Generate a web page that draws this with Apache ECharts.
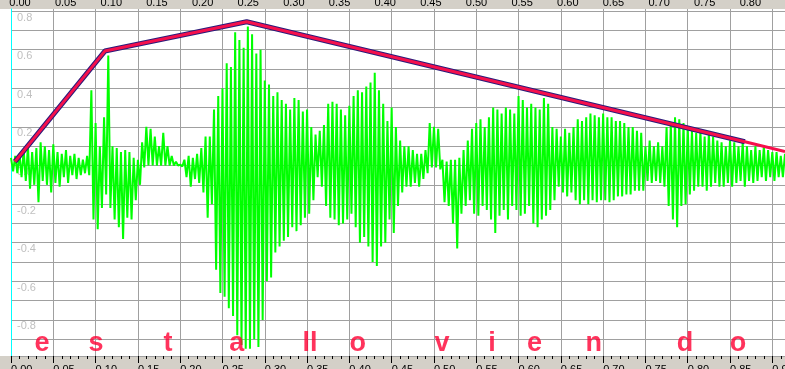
<!DOCTYPE html>
<html><head><meta charset="utf-8">
<script src="https://cdn.jsdelivr.net/npm/echarts@6/dist/echarts.min.js"></script>
<style>html,body{margin:0;padding:0;background:#fff}#c{width:785px;height:369px}</style>
</head><body><div id="c"></div>
<script>
// waveform envelope, one column every 5 ms (upper peak, lower peak)
const sampleStep = 0.005;
const waveUpper = [
0.04,0.05,0.06,0.08,0.10,0.07,0.09,0.12,0.10,0.08,
0.11,0.07,0.06,0.08,0.05,0.06,0.04,0.03,0.05,0.39,
0.22,0.10,0.25,0.57,0.10,0.09,0.07,0.08,0.07,0.04,
0.03,0.12,0.20,0.19,0.15,0.10,0.17,0.10,0.05,0.02,
0.005,0.03,0.05,0.04,0.06,0.09,0.15,0.15,0.29,0.36,
0.40,0.53,0.51,0.69,0.65,0.61,0.72,0.68,0.58,0.60,
0.44,0.42,0.36,0.38,0.34,0.32,0.29,0.35,0.34,0.28,
0.29,0.20,0.16,0.18,0.21,0.32,0.33,0.32,0.29,0.26,
0.31,0.36,0.39,0.38,0.41,0.43,0.48,0.39,0.32,0.23,
0.30,0.20,0.13,0.10,0.10,0.08,0.06,0.06,0.08,0.22,
0.20,0.19,0.03,0.02,0.03,0.03,0.04,0.08,0.13,0.19,
0.22,0.24,0.20,0.25,0.30,0.29,0.27,0.30,0.29,0.27,
0.36,0.34,0.30,0.32,0.30,0.29,0.35,0.32,0.20,0.19,
0.15,0.19,0.17,0.20,0.24,0.23,0.25,0.27,0.26,0.25,
0.27,0.25,0.25,0.23,0.23,0.22,0.20,0.20,0.18,0.17,
0.10,0.13,0.10,0.12,0.10,0.20,0.22,0.25,0.24,0.22,
0.20,0.18,0.17,0.18,0.15,0.17,0.15,0.13,0.12,0.10,
0.13,0.12,0.10,0.12,0.10,0.08,0.10,0.08,0.10,0.08,
0.07,0.07,0.05,0.06];
const waveLower = [
-0.03,-0.04,-0.06,-0.08,-0.12,-0.10,-0.19,-0.08,-0.10,-0.14,
-0.09,-0.11,-0.06,-0.09,-0.05,-0.07,-0.05,-0.04,-0.05,-0.28,
-0.33,-0.22,-0.15,-0.22,-0.28,-0.32,-0.38,-0.27,-0.28,-0.18,
-0.10,-0.01,0,0,0,0,0,0,0,0,
-0.005,-0.06,-0.11,-0.07,-0.09,-0.14,-0.27,-0.20,-0.54,-0.66,
-0.68,-0.74,-0.78,-0.88,-0.93,-0.95,-0.95,-0.90,-0.94,-0.80,
-0.60,-0.58,-0.45,-0.42,-0.39,-0.37,-0.32,-0.34,-0.31,-0.27,
-0.25,-0.18,-0.06,-0.11,-0.21,-0.27,-0.28,-0.31,-0.30,-0.28,
-0.25,-0.32,-0.40,-0.37,-0.42,-0.50,-0.52,-0.42,-0.40,-0.28,
-0.35,-0.21,-0.14,-0.11,-0.11,-0.09,-0.11,-0.07,-0.04,-0.01,
-0.01,-0.02,-0.19,-0.21,-0.30,-0.43,-0.25,-0.21,-0.18,-0.25,
-0.26,-0.21,-0.23,-0.28,-0.35,-0.26,-0.23,-0.28,-0.21,-0.23,
-0.26,-0.25,-0.21,-0.30,-0.32,-0.28,-0.26,-0.23,-0.18,-0.11,
-0.14,-0.16,-0.14,-0.18,-0.20,-0.18,-0.20,-0.18,-0.19,-0.18,
-0.18,-0.19,-0.18,-0.16,-0.16,-0.15,-0.15,-0.13,-0.13,-0.13,
-0.08,-0.09,-0.08,-0.09,-0.11,-0.21,-0.28,-0.32,-0.21,-0.20,
-0.15,-0.13,-0.11,-0.11,-0.13,-0.11,-0.09,-0.11,-0.11,-0.09,
-0.11,-0.09,-0.08,-0.11,-0.08,-0.09,-0.08,-0.06,-0.08,-0.06,
-0.08,-0.06,-0.06,-0.05];

// pitch/intonation contour
const envelopeTimes  = [0.0047, 0.111, 0.2786, 0.8676, 0.915];
const envelopeValues = [0.02, 0.593, 0.745, 0.123, 0.072];
const outlinedPoints = 4;

// phoneme labels
const phonemes     = ['e','s','t','a','ll','o','v','i','e','n','d','o'];
const phonemeTimes = [0.0366,0.1005,0.1856,0.267,0.3534,0.410,0.5095,0.5686,0.619,0.689,0.7967,0.8593];

// tick labels
const topAxisLabels = [0,0.05,0.10,0.15,0.20,0.25,0.30,0.35,0.40,0.45,0.50,0.55,0.60,0.65,0.70,0.75,0.80];
const yAxisLabels = [0.8,0.6,0.4,0.2,0,-0.2,-0.4,-0.6,-0.8];
const yGridValues = [0.8,0.7,0.6,0.5,0.4,0.3,0.2,0.1,0,-0.1,-0.2,-0.3,-0.4,-0.5,-0.6,-0.7,-0.8,-0.9];

const wave = [];
waveUpper.forEach((u, i) => {
  const t = i * sampleStep;
  wave.push([t, u]);
  wave.push([t + sampleStep / 2, waveLower[i]]);
});
const envelope = envelopeTimes.map((t, i) => [t, envelopeValues[i]]);
const phonemeRow = -0.925;

const chart = echarts.init(document.getElementById('c'), null, {renderer: 'canvas'});
chart.setOption({
  animation: false,
  backgroundColor: '#ffffff',
  grid: {left: 11, right: 0, top: 9, bottom: 13, containLabel: false, outerBoundsMode: 'none'},
  graphic: {elements: [
    {type: 'rect', z: -100, shape: {x: 0, y: 0, width: 785, height: 9}, style: {fill: '#d4d0c8'}},
    {type: 'rect', z: -100, shape: {x: 0, y: 356, width: 785, height: 13}, style: {fill: '#d4d0c8'}}
  ]},
  xAxis: [
    {type: 'value', position: 'bottom', min: 0, max: 0.915, interval: 0.05,
     axisLine: {show: true, onZero: false, lineStyle: {color: '#a0a0a0'}},
     axisTick: {show: true, length: 7, lineStyle: {color: '#000'}},
     minorTick: {show: true, splitNumber: 5, length: 3, lineStyle: {color: '#000'}},
     axisLabel: {align: 'left', margin: 8, color: '#000', fontSize: 11, fontFamily: 'Liberation Sans',
                 formatter: v => v.toFixed(2)},
     splitLine: {show: true, lineStyle: {color: '#a0a0a0', width: 1}}},
    {type: 'value', position: 'top', min: -0.00986, max: 0.8379,
     axisLine: {show: false, onZero: false}, axisTick: {show: false}, splitLine: {show: false},
     axisLabel: {customValues: topAxisLabels, margin: 1, color: '#000', fontSize: 11, fontFamily: 'Liberation Sans',
                 formatter: v => v.toFixed(2)}}
  ],
  yAxis: {type: 'value', min: -0.987, max: 0.811,
    axisLine: {show: true, onZero: false, lineStyle: {color: '#00ffff'}},
    axisTick: {show: false, customValues: yGridValues},
    axisLabel: {inside: true, customValues: yAxisLabels, verticalAlign: 'top', margin: 6, padding: [1, 0, 0, 0],
                color: '#c0c0c0', fontSize: 11, fontFamily: 'Liberation Sans', formatter: v => v.toFixed(1)},
    splitLine: {show: true, lineStyle: {color: '#a0a0a0', width: 1}}},
  series: [
    {type: 'line', data: wave, symbol: 'none', z: 2, silent: true,
     lineStyle: {color: '#00ff00', width: 2}},
    {type: 'line', data: envelope.slice(0, outlinedPoints), symbol: 'none', z: 3, silent: true,
     lineStyle: {color: '#2b1b7a', width: 5}},
    {type: 'line', data: envelope, symbol: 'none', z: 4, silent: true,
     lineStyle: {color: '#f5104c', width: 3}},
    {type: 'scatter', symbolSize: 0, z: 5, silent: true,
     data: phonemeTimes.map(t => [t, phonemeRow]),
     label: {show: true, position: 'inside', color: '#ff0033', fontSize: 27, fontWeight: 'bold',
             fontFamily: '"Liberation Sans Narrow", "Liberation Sans"',
             formatter: p => phonemes[p.dataIndex]}}
  ]
});
</script></body></html>
